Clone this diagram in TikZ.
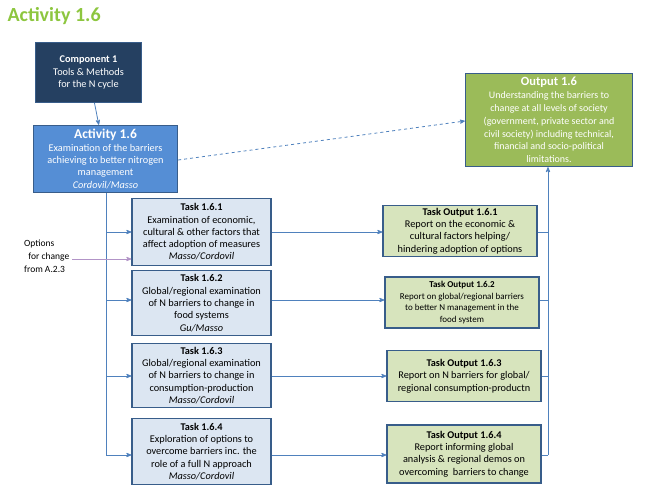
\documentclass[tikz,border=0pt]{standalone}
\usepackage{fontspec}
\setmainfont{Carlito}
\usetikzlibrary{positioning,arrows}
\definecolor{navy}{HTML}{254061}
\definecolor{actblue}{HTML}{558ED5}
\definecolor{edgeblue}{HTML}{385D8A}
\definecolor{lineblue}{HTML}{4F81BD}
\definecolor{taskfill}{HTML}{DCE6F2}
\definecolor{outfill}{HTML}{D7E4BD}
\definecolor{outgreen}{HTML}{9BBB59}
\definecolor{titlegreen}{HTML}{8DC63F}
\definecolor{optpurple}{HTML}{B294C7}
\begin{document}
\begin{tikzpicture}
	[x=1pt,y=-1pt,font=\fontsize{10.3}{12.3}\selectfont,
	bx/.style={draw=edgeblue,line width=1.3pt,align=center,inner sep=1pt},
	taskbox/.style={bx,fill=taskfill,minimum width=139pt},
	outbox/.style={bx,fill=outfill,minimum width=154pt},
	ln/.style={draw=lineblue,line width=0.8pt},
	arr/.style={ln,->,>=stealth'}]
	\useasboundingbox (0,0) rectangle (648,491);
	%TITLE
	\node[anchor=west,text=titlegreen,font=\fontsize{20}{22}\selectfont\bfseries] (title) at (4,16) {Activity 1.6};
	%TOP BOXES
	\node[bx,fill=navy,text=white,minimum width=106pt,minimum height=60pt] (comp) at (88.5,72.5)
		{\textbf{Component 1}\\Tools \& Methods\\for the N cycle};
	\node[bx,fill=actblue,text=white,minimum width=144pt,minimum height=67pt] (act) at (105.5,159)
		{{\fontsize{13.5}{14}\selectfont\textbf{Activity 1.6}}\\Examination of the barriers\\achieving to better nitrogen\\management\\\textit{Cordovil/Masso}};
	\node[bx,fill=outgreen,text=white,minimum width=167pt,minimum height=93pt,font=\fontsize{10}{12.8}\selectfont] (out) at (549,120)
		{{\fontsize{12.5}{13}\selectfont\textbf{Output 1.6}}\\Understanding the barriers to\\change at all levels of society\\(government, private sector and\\civil society) including technical,\\financial and socio-political\\limitations.};
	%TASKS
	\node[taskbox,minimum height=67pt] (t1) at (201.5,232) {\textbf{Task 1.6.1}\\Examination of economic,\\cultural \& other factors that\\affect adoption of measures\\\textit{Masso/Cordovil}};
	\node[taskbox,minimum height=65pt] (t2) at (201.5,303) {\textbf{Task 1.6.2}\\Global/regional examination\\of N barriers to change in\\food systems\\\textit{Gu/Masso}};
	\node[taskbox,minimum height=64pt] (t3) at (201.5,375.5) {\textbf{Task 1.6.3}\\Global/regional examination\\of N barriers to change in\\consumption-production\\\textit{Masso/Cordovil}};
	\node[taskbox,minimum height=66pt] (t4) at (201.5,451.5) {\textbf{Task 1.6.4}\\Exploration of options to\\overcome barriers inc. the\\role of a full N approach\\\textit{Masso/Cordovil}};
	%TASK OUTPUTS
	\node[outbox,minimum height=51pt] (o1) at (460,231) {\textbf{Task Output 1.6.1}\\Report on the economic \&\\cultural factors helping/\\hindering adoption of options};
	\node[outbox,minimum height=51pt,font=\fontsize{9}{11.5}\selectfont] (o2) at (462,302.5) {\textbf{Task Output 1.6.2}\\Report on global/regional barriers\\to better N management in the\\food system};
	\node[outbox,minimum height=51pt] (o3) at (464,376) {\textbf{Task Output 1.6.3}\\Report on N barriers for global/\\regional consumption-productn};
	\node[outbox,minimum height=58pt] (o4) at (464,454) {\textbf{Task Output 1.6.4}\\Report informing global\\analysis \& regional demos on\\overcoming\ \ barriers to change};
	\node[align=left,anchor=west,inner sep=0pt,font=\fontsize{9.5}{13}\selectfont] (opt) at (24,256) {Options\\\ \ for change\\from A.2.3};
	\coordinate (spine) at (106,455);
	\coordinate (bus) at (548,455);
	%CONNECTORS
	\path[arr] (comp) -- (act);
	\path[arr,dashed] (act.east |- 0,160) -- (out.west |- 0,121);
	\path[ln] (act.south -| spine) -- (spine);
	\foreach \i/\y in {1/232,2/300,3/376,4/455}
	{
		\path[arr] (spine |- 0,\y) -- (t\i.west |- 0,\y);
		\path[arr] (t\i.east |- 0,\y) -- (o\i.west |- 0,\y);
		\path[ln] (o\i.east |- 0,\y) -- (bus |- 0,\y);
	};
	\path[arr] (bus) -- (out.south -| bus);
	\path[->,>=stealth',draw=optpurple,line width=0.8pt] (72,259) -- (t1.west |- 0,259);
\end{tikzpicture}
\end{document}
